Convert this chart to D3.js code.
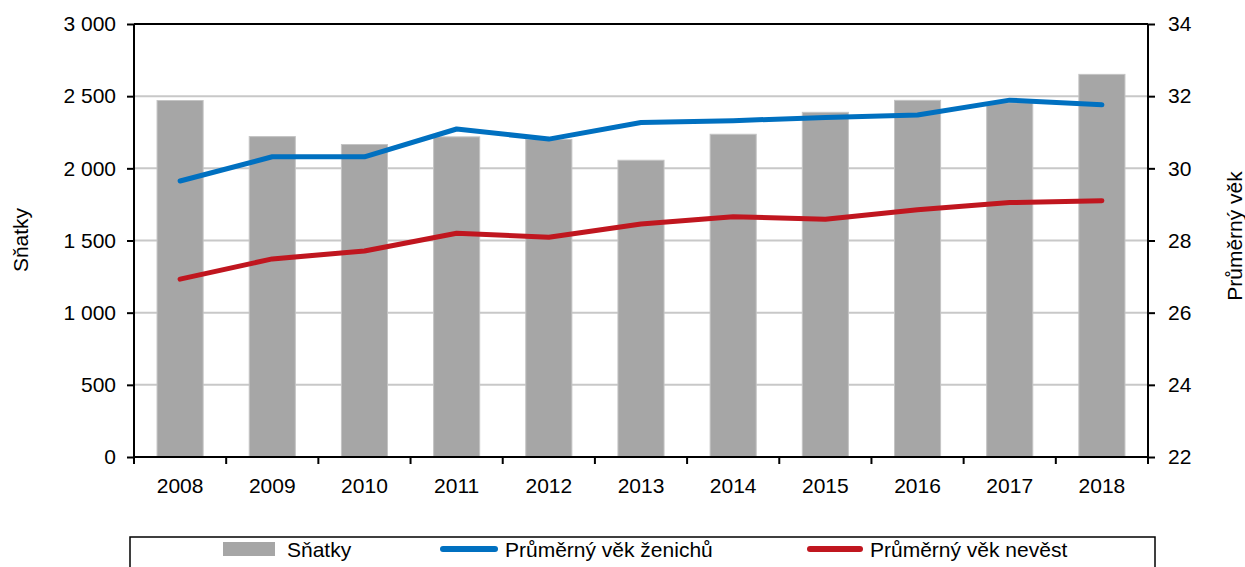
<!DOCTYPE html>
<html>
<head>
<meta charset="utf-8">
<script src="https://cdnjs.cloudflare.com/ajax/libs/d3/7.8.5/d3.min.js"></script>
<style>
  body { margin: 0; background: #fff; }
  svg text { font-family: "Liberation Sans", Arial, sans-serif; fill: #000; }
</style>
</head>
<body>
<svg id="chart" width="1245" height="567"></svg>
<script>
// data
let years = ["2008", "2009", "2010", "2011", "2012", "2013", "2014", "2015", "2016", "2017", "2018"];
let snatky = [2470, 2220, 2165, 2218, 2200, 2056, 2236, 2388, 2471, 2455, 2651];
let vekZenichu = [29.65, 30.32, 30.32, 31.09, 30.81, 31.27, 31.32, 31.41, 31.48, 31.89, 31.76];
let vekNevest = [26.93, 27.49, 27.71, 28.2, 28.09, 28.46, 28.66, 28.59, 28.85, 29.05, 29.1];
let leftTicks = [0, 500, 1000, 1500, 2000, 2500, 3000];
let rightTicks = [22, 24, 26, 28, 30, 32, 34];

let plot = { left: 134, right: 1148, top: 24, bottom: 457 };
let fontSize = 21;
let svg = d3.select("#chart");

let xScale = d3.scaleBand()
    .domain(years)
    .range([plot.left, plot.right])
    .paddingInner(0.5)
    .paddingOuter(0.25);
let step = xScale.step();

let yLeft = d3.scaleLinear().domain([0, 3000]).range([plot.bottom, plot.top]);
let yRight = d3.scaleLinear().domain([22, 34]).range([plot.bottom, plot.top]);

let fmt = function(d) {
    return d3.format(",")(d).replace(",", " ");
};

// gridlines
svg.append("g")
    .selectAll("line")
    .data(leftTicks.filter(d => d > 0 && d < 3000))
    .enter()
    .append("line")
    .attr("x1", plot.left)
    .attr("x2", plot.right)
    .attr("y1", d => yLeft(d))
    .attr("y2", d => yLeft(d))
    .attr("stroke", "#c8c8c8")
    .attr("stroke-width", 2);

// bars
svg.append("g")
    .selectAll("rect")
    .data(years)
    .enter()
    .append("rect")
    .attr("x", d => xScale(d))
    .attr("y", (d, i) => yLeft(snatky[i]))
    .attr("width", xScale.bandwidth())
    .attr("height", (d, i) => plot.bottom - yLeft(snatky[i]))
    .attr("fill", "#a6a6a6")
    .attr("stroke", "#c4c4c4")
    .attr("stroke-width", 1);

// lines
let lineOf = function(values) {
    return d3.line()
        .x((d, i) => xScale(years[i]) + xScale.bandwidth() / 2)
        .y(d => yRight(d))(values);
};
svg.append("path")
    .attr("d", lineOf(vekZenichu))
    .attr("fill", "none")
    .attr("stroke", "#0070c0")
    .attr("stroke-width", 5)
    .attr("stroke-linecap", "round")
    .attr("stroke-linejoin", "round");
svg.append("path")
    .attr("d", lineOf(vekNevest))
    .attr("fill", "none")
    .attr("stroke", "#c0161f")
    .attr("stroke-width", 5)
    .attr("stroke-linecap", "round")
    .attr("stroke-linejoin", "round");

// frame / axes
let axisColor = "#000";
svg.append("line") //top
    .attr("x1", plot.left).attr("x2", plot.right)
    .attr("y1", plot.top).attr("y2", plot.top)
    .attr("stroke", axisColor).attr("stroke-width", 2);

let gLeft = svg.append("g")
    .attr("transform", "translate(" + plot.left + ",0)")
    .call(d3.axisLeft(yLeft).tickValues(leftTicks).tickFormat(fmt).tickSize(7).tickPadding(11));
let gRight = svg.append("g")
    .attr("transform", "translate(" + plot.right + ",0)")
    .call(d3.axisRight(yRight).tickValues(rightTicks).tickSize(7).tickPadding(13));

// bottom axis: ticks at band boundaries, labels at centres
let boundaries = years.map(d => xScale(d) - step * 0.25).concat([plot.right]);
let gBottom = svg.append("g");
gBottom.append("line")
    .attr("x1", plot.left).attr("x2", plot.right)
    .attr("y1", plot.bottom).attr("y2", plot.bottom)
    .attr("stroke", axisColor).attr("stroke-width", 2);
gBottom.selectAll(".tk")
    .data(boundaries)
    .enter()
    .append("line")
    .attr("class", "tk")
    .attr("x1", d => d).attr("x2", d => d)
    .attr("y1", plot.bottom).attr("y2", plot.bottom + 7)
    .attr("stroke", axisColor).attr("stroke-width", 2);
gBottom.selectAll("text")
    .data(years)
    .enter()
    .append("text")
    .attr("x", d => xScale(d) + xScale.bandwidth() / 2)
    .attr("y", 493)
    .attr("text-anchor", "middle")
    .attr("font-size", fontSize)
    .text(d => d);

[gLeft, gRight].forEach(function(g) {
    g.select(".domain").attr("stroke", axisColor).attr("stroke-width", 2);
    g.selectAll(".tick line").attr("stroke", axisColor).attr("stroke-width", 2);
    g.selectAll(".tick text")
        .attr("font-size", fontSize)
        .attr("font-family", "Liberation Sans, Arial, sans-serif")
        .attr("fill", "#000");
});
gLeft.select(".domain").attr("d", "M0," + plot.bottom + "V" + plot.top);
gRight.select(".domain").attr("d", "M0," + plot.bottom + "V" + plot.top);

// axis titles
svg.append("text")
    .attr("transform", "translate(28,240) rotate(-90)")
    .attr("text-anchor", "middle")
    .attr("font-size", fontSize)
    .text("Sňatky");
svg.append("text")
    .attr("transform", "translate(1242,236) rotate(-90)")
    .attr("text-anchor", "middle")
    .attr("font-size", fontSize)
    .text("Průměrný věk");

// legend
let legend = svg.append("g");
legend.append("rect")
    .attr("x", 130).attr("y", 537)
    .attr("width", 1025).attr("height", 40)
    .attr("fill", "#fff")
    .attr("stroke", "#000")
    .attr("stroke-width", 1.5);
legend.append("rect")
    .attr("x", 223).attr("y", 542)
    .attr("width", 52).attr("height", 14)
    .attr("fill", "#a6a6a6");
legend.append("text").attr("x", 287).attr("y", 557).attr("font-size", fontSize).text("Sňatky");
legend.append("line")
    .attr("x1", 443).attr("x2", 495).attr("y1", 549).attr("y2", 549)
    .attr("stroke", "#0070c0").attr("stroke-width", 6).attr("stroke-linecap", "round");
legend.append("text").attr("x", 505).attr("y", 557).attr("font-size", fontSize).text("Průměrný věk ženichů");
legend.append("line")
    .attr("x1", 810).attr("x2", 860).attr("y1", 549).attr("y2", 549)
    .attr("stroke", "#c0161f").attr("stroke-width", 6).attr("stroke-linecap", "round");
legend.append("text").attr("x", 870).attr("y", 557).attr("font-size", fontSize).text("Průměrný věk nevěst");
</script>
</body>
</html>
